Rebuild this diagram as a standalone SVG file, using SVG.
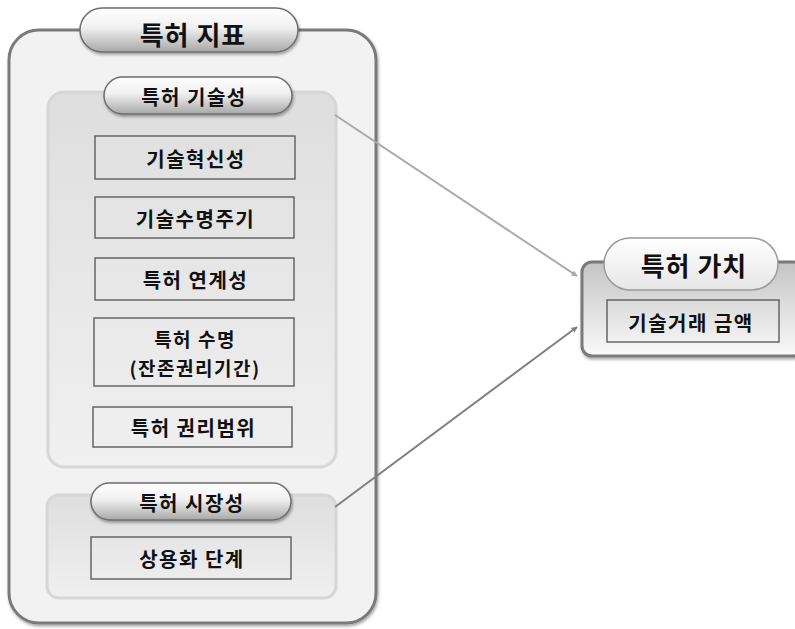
<svg xmlns="http://www.w3.org/2000/svg" width="795" height="629" viewBox="0 0 795 629">
<defs>
<linearGradient id="pillG" x1="0" y1="0" x2="0" y2="1">
<stop offset="0" stop-color="#ffffff"/>
<stop offset="0.45" stop-color="#f0f0f0"/>
<stop offset="1" stop-color="#a8a8a8"/>
</linearGradient>
<linearGradient id="pillLight" x1="0" y1="0" x2="0" y2="1">
<stop offset="0" stop-color="#ffffff"/>
<stop offset="1" stop-color="#e6e6e6"/>
</linearGradient>
<linearGradient id="groupG" x1="0" y1="0" x2="0" y2="1">
<stop offset="0" stop-color="#dedede"/>
<stop offset="1" stop-color="#f0f0f0"/>
</linearGradient>
<linearGradient id="valueG" x1="0" y1="0" x2="0" y2="1">
<stop offset="0" stop-color="#c4c4c4"/>
<stop offset="1" stop-color="#fafafa"/>
</linearGradient>
<filter id="sh" x="-10%" y="-20%" width="120%" height="150%">
<feDropShadow dx="1" dy="2" stdDeviation="1.5" flood-color="#000" flood-opacity="0.35"/>
</filter>
<marker id="ah1" viewBox="0 0 10 10" refX="9" refY="5" markerWidth="6" markerHeight="6" orient="auto" markerUnits="userSpaceOnUse">
<path d="M0,0 L10,5 L0,10 z" fill="#aaaaaa"/>
</marker>
<marker id="ah2" viewBox="0 0 10 10" refX="9" refY="5" markerWidth="6" markerHeight="6" orient="auto" markerUnits="userSpaceOnUse">
<path d="M0,0 L10,5 L0,10 z" fill="#808080"/>
</marker>
</defs>
<style>
text{font-family:"Noto Sans CJK KR","Noto Sans",sans-serif;font-weight:bold;fill:#111;text-anchor:middle;dominant-baseline:central}
.t1{font-size:26px;letter-spacing:1px}
.t2{font-size:20px;letter-spacing:1.5px}
.t3{font-size:20px;letter-spacing:1.5px}
.t4{font-size:19px;letter-spacing:1.5px}
.box{fill:none;stroke:#666;stroke-width:1.5}
.pill{fill:url(#pillG);stroke:#6e6e6e;stroke-width:1.5}
.grp{fill:url(#groupG);stroke:#d6d6d6;stroke-width:3}
</style>
<rect width="795" height="629" fill="#ffffff"/>

<g id="patent-index">
<rect x="9" y="30" width="367" height="593" rx="30" fill="#f2f2f2" stroke="#7a7a7a" stroke-width="3" filter="url(#sh)"/>
<rect x="80" y="8" width="218" height="44" rx="22" class="pill" filter="url(#sh)"/>
<text x="193" y="33" class="t1">특허 지표</text>
</g>

<g id="tech-group">
<rect x="48" y="92" width="288" height="375" rx="16" class="grp"/>
<rect x="104" y="77" width="188" height="37" rx="18.5" class="pill" filter="url(#sh)"/>
<text x="194" y="96" class="t2">특허 기술성</text>
</g>

<g id="n1"><rect x="95" y="136" width="200" height="43" class="box"/><text x="196" y="158" class="t3">기술혁신성</text></g>
<g id="n2"><rect x="95" y="197" width="199" height="41" class="box"/><text x="195.5" y="218" class="t3">기술수명주기</text></g>
<g id="n3"><rect x="95" y="258" width="199" height="42" class="box"/><text x="195.5" y="279" class="t3">특허 연계성</text></g>
<g id="n4"><rect x="94" y="318" width="200" height="68" class="box"/><text x="195" y="338" class="t4">특허 수명</text><text x="195" y="367" class="t4">(잔존권리기간)</text></g>
<g id="n5"><rect x="93" y="407" width="199" height="40" class="box"/><text x="193.5" y="427" class="t3">특허 권리범위</text></g>

<g id="market-group">
<rect x="47" y="495" width="289" height="103" rx="12" class="grp"/>
<rect x="91" y="483" width="200" height="37" rx="18.5" class="pill" filter="url(#sh)"/>
<text x="192" y="502" class="t2">특허 시장성</text>
</g>
<g id="n6"><rect x="91" y="537" width="200" height="42" class="box"/><text x="192" y="558" class="t3">상용화 단계</text></g>

<g id="patent-value">
<rect x="582" y="262" width="222" height="94" rx="10" fill="url(#valueG)" stroke="#7a7a7a" stroke-width="3" filter="url(#sh)"/>
<rect x="604" y="238" width="174" height="52" rx="26" fill="url(#pillLight)" stroke="#9a9a9a" stroke-width="1.5"/>
<text x="694" y="264" class="t1">특허 가치</text>
</g>
<g id="n7"><rect x="607" y="300" width="172" height="42" class="box"/><text x="691" y="322" class="t3">기술거래 금액</text></g>

<g id="connectors">
<line x1="335" y1="115" x2="577" y2="276" stroke="#aaaaaa" stroke-width="2" marker-end="url(#ah1)"/>
<line x1="335" y1="507" x2="577" y2="327" stroke="#808080" stroke-width="2" marker-end="url(#ah2)"/>
</g>
</svg>
